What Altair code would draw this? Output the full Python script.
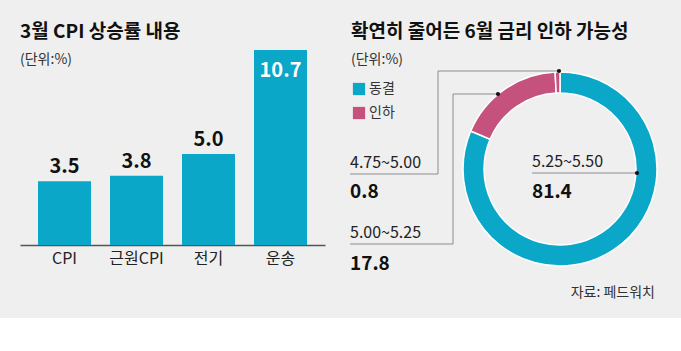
import altair as alt
import pandas as pd

# ---------------- data ----------------
bar_categories = ["CPI", "근원CPI", "전기", "운송"]
bar_values = [3.5, 3.8, 5.0, 10.7]

rate_ranges = ["5.25~5.50", "5.00~5.25", "4.75~5.00"]
rate_probs = [81.4, 17.8, 0.8]
rate_groups = ["동결", "인하", "인하"]
legend_labels = ["동결", "인하"]

left_title = "3월 CPI 상승률 내용"
right_title = "확연히 줄어든 6월 금리 인하 가능성"
unit_label = "(단위:%)"
source_label = "자료: 페드워치"

# ---------------- layout / style ----------------
W, H = 681, 351
BG = "#efefef"
BLUE = "#0aa7c9"
PINK = "#c4527c"
LINE = "#8c8c8c"
FONT = "Noto Sans CJK KR"

# annotation layout (pixels) for each rate range, same order as rate_ranges
ann_x = [532, 350, 350]
ann_label_y = [167, 238, 168]
ann_value_y = [198, 270, 198]
# leader-line segments (pixels)
seg_x = [532, 453, 453, 350, 438, 438, 350]
seg_x2 = [637, 498, 453, 453, 559, 438, 438]
seg_y = [173, 94, 94, 244, 71, 71, 174]
seg_y2 = [173, 94, 244, 244, 71, 174, 174]
dot_x = [637, 498, 559]
dot_y = [173, 94, 71]

bars_df = pd.DataFrame({"cat": bar_categories, "val": bar_values})
pie_df = pd.DataFrame({
    "range": rate_ranges,
    "prob": rate_probs,
    "group": rate_groups,
    "ord": list(range(len(rate_ranges))),
    "ax": ann_x,
    "ly": ann_label_y,
    "vy": ann_value_y,
})
seg_df = pd.DataFrame({"x": seg_x, "x2": seg_x2, "y": seg_y, "y2": seg_y2})
dot_df = pd.DataFrame({"x": dot_x, "y": dot_y})
one = pd.DataFrame({"k": [0]})

# background strip (white below the gray panel)
bottom = alt.Chart(one).mark_rect(color="white").encode(
    x=alt.value(0), x2=alt.value(W), y=alt.value(318), y2=alt.value(H)
)

# ---------------- bar chart ----------------
xenc = alt.X(
    "cat:N", sort=bar_categories, title=None,
    scale=alt.Scale(range=[20, 325], paddingInner=0.264, paddingOuter=0.25),
    axis=alt.Axis(orient="bottom", offset=-106, domainColor="#555555",
                  domainWidth=1.5, ticks=False, grid=False, labelAngle=0,
                  labelFont=FONT, labelFontSize=16, labelColor="#222222",
                  labelPadding=5),
)
yenc = alt.Y("val:Q", scale=alt.Scale(domain=[0, 10.7], range=[245, 50]), axis=None)

bars = alt.Chart(bars_df).mark_bar(color=BLUE).encode(x=xenc, y=yenc)
bar_lab_out = alt.Chart(bars_df).transform_filter("datum.val < 8").mark_text(
    font=FONT, fontSize=20, fontWeight="bold", color="#111111",
    baseline="alphabetic", dy=-8
).encode(x=xenc, y=yenc, text=alt.Text("val:Q", format=".1f"))
bar_lab_in = alt.Chart(bars_df).transform_filter("datum.val >= 8").mark_text(
    font=FONT, fontSize=20, fontWeight="bold", color="white",
    baseline="alphabetic", dy=27
).encode(x=xenc, y=yenc, text=alt.Text("val:Q", format=".1f"))

# ---------------- donut ----------------
donut = alt.Chart(pie_df).mark_arc(stroke="white", strokeWidth=1.5).encode(
    theta=alt.Theta("prob:Q", stack=True),
    order=alt.Order("ord:Q"),
    color=alt.Color(
        "group:N",
        scale=alt.Scale(domain=legend_labels, range=[BLUE, PINK]),
        legend=alt.Legend(orient="none", legendX=352, legendY=82, title=None,
                          symbolType="square", symbolSize=150,
                          symbolStrokeWidth=0, labelFont=FONT,
                          labelFontSize=14, labelColor="#333333",
                          labelOffset=3, rowPadding=10),
    ),
    x=alt.value(560), y=alt.value(169),
    radius=alt.value(97), radius2=alt.value(76),
)

leaders = alt.Chart(seg_df).mark_rule(color=LINE, strokeWidth=1).encode(
    x=alt.X("x:Q", scale=None), x2="x2:Q",
    y=alt.Y("y:Q", scale=None), y2="y2:Q",
)
dots = alt.Chart(dot_df).mark_circle(color="#111111", size=18, opacity=1).encode(
    x=alt.X("x:Q", scale=None), y=alt.Y("y:Q", scale=None)
)
range_text = alt.Chart(pie_df).mark_text(
    font=FONT, fontSize=16, color="#222222", align="left", baseline="alphabetic"
).encode(x=alt.X("ax:Q", scale=None), y=alt.Y("ly:Q", scale=None), text="range:N")
value_text = alt.Chart(pie_df).mark_text(
    font=FONT, fontSize=19, fontWeight="bold", color="#111111",
    align="left", baseline="alphabetic"
).encode(x=alt.X("ax:Q", scale=None), y=alt.Y("vy:Q", scale=None),
         text=alt.Text("prob:Q", format=".1f"))

# ---------------- static texts ----------------
def label(txt, x, y, size, weight="normal", align="left", color="#111111"):
    return alt.Chart(one).mark_text(
        font=FONT, fontSize=size, fontWeight=weight, align=align,
        baseline="alphabetic", color=color
    ).encode(x=alt.value(x), y=alt.value(y), text=alt.value(txt))

texts = [
    label(left_title, 20, 38, 19, "bold"),
    label(right_title, 351, 38, 19, "bold"),
    label(unit_label, 20, 64, 14, color="#333333"),
    label(unit_label, 351, 64, 14, color="#333333"),
    label(source_label, 655, 297, 14, align="right", color="#333333"),
]

chart = alt.layer(
    bottom, bars, bar_lab_out, bar_lab_in, donut, leaders, dots,
    range_text, value_text, *texts
).properties(
    width=W, height=H, padding=0,
    autosize=alt.AutoSizeParams(type="none"),
    background=BG,
).configure_view(stroke=None)

chart.save("out.html", embed_options={"renderer": "svg", "actions": False})
